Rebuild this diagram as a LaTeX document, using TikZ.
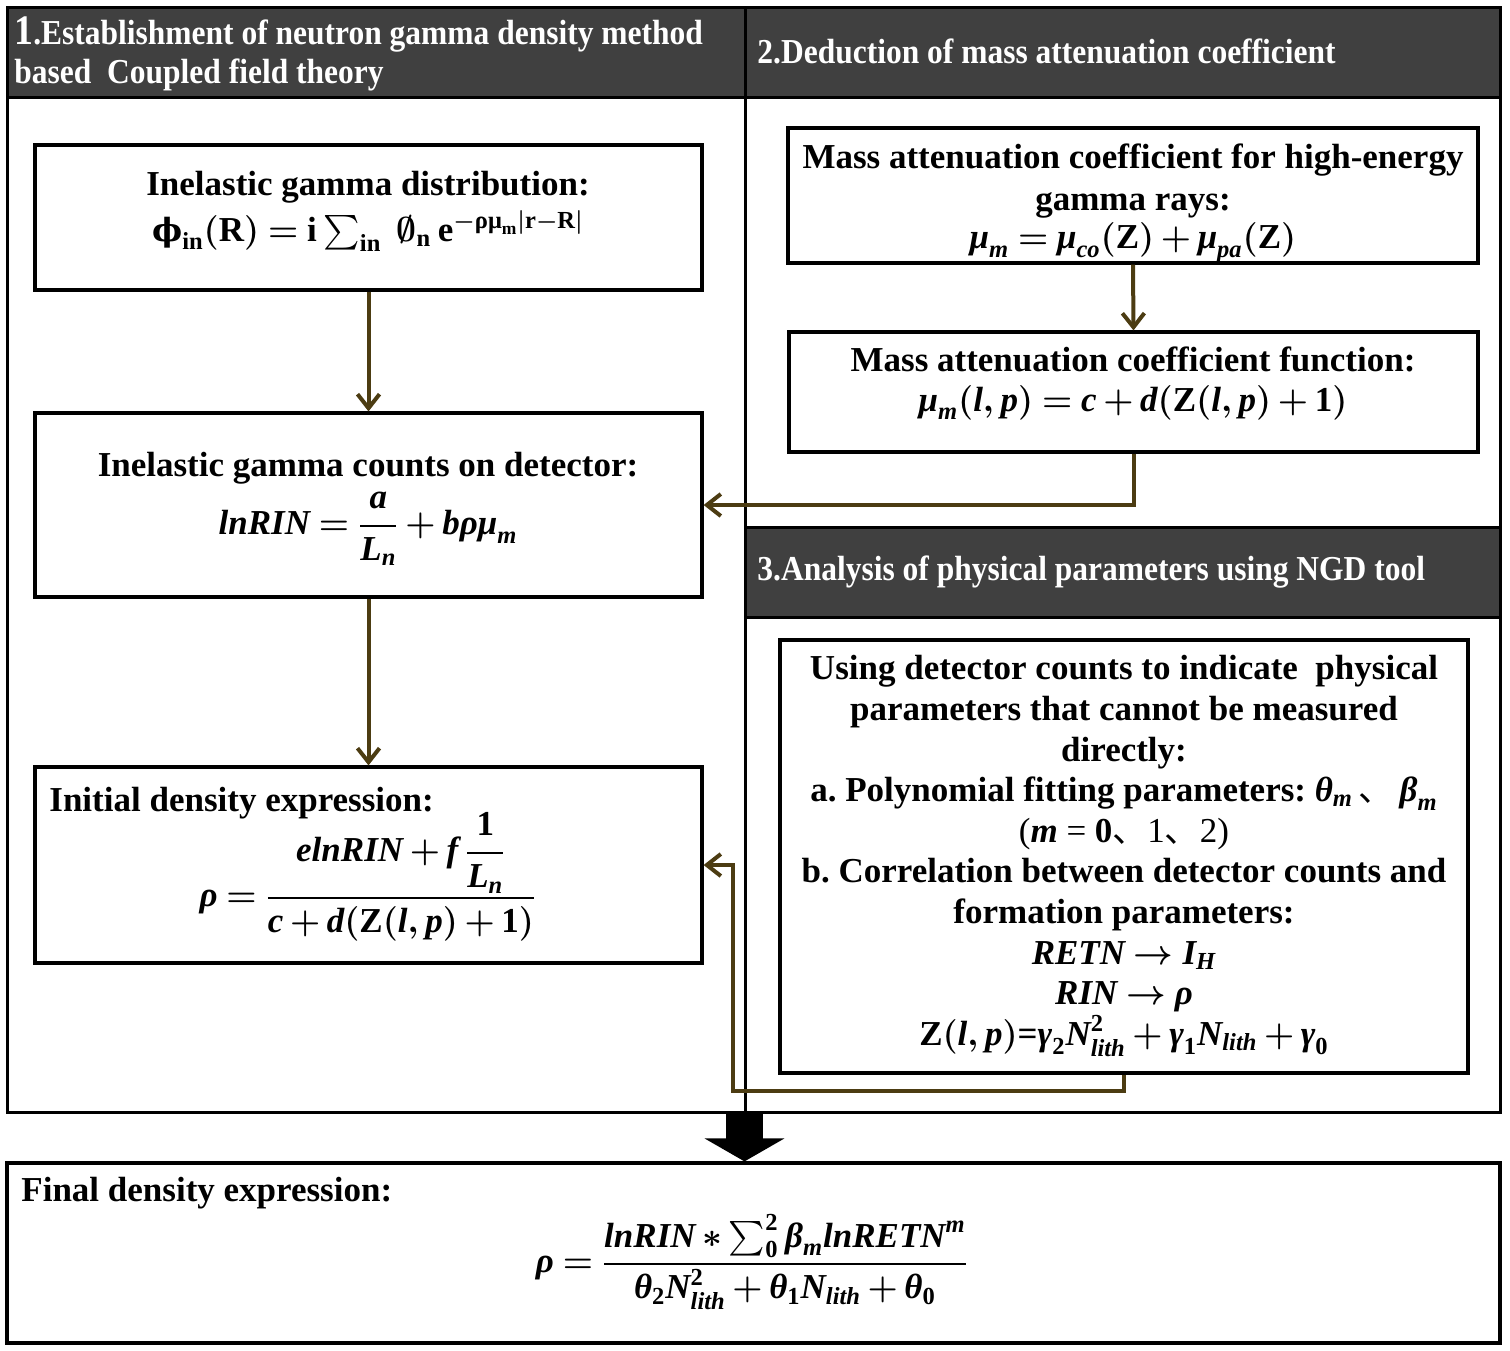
\documentclass[tikz,border=0pt]{standalone}
\usepackage{amsmath}
\usepackage{fontspec}
\setmainfont{Liberation Serif}
\newfontfamily\hdrfont[FakeStretch=0.9]{Liberation Serif}
\newfontfamily\cjkfont{Noto Sans CJK SC}
\newfontfamily\grkfont{DejaVu Serif}
\usetikzlibrary{arrows.meta,fit}
\definecolor{hdrgray}{RGB}{64,64,64}
\definecolor{connbrown}{RGB}{76,60,18}
\newcommand\mt[1]{\text{\bfseries\itshape #1}}
\newcommand\mb[1]{\text{\bfseries #1}}
\newcommand\tightmath{\thickmuskip 4mu\relax\medmuskip 3mu\relax}
\newcommand\bodyfont{\fontsize{17.5}{21}\selectfont\bfseries\boldmath\frenchspacing\tightmath}
\newcommand\bodyfontF{\fontsize{17.5}{20.3}\selectfont\bfseries\boldmath\frenchspacing\tightmath}
\tikzset{
  frameline/.style={line width=1.5pt},
  box/.style={draw, line width=1.6pt, inner sep=0pt},
  conn/.style={draw=connbrown, line width=2pt, -{Straight Barb[length=7pt,width=11pt]}},
  body/.style={font=\bodyfont, align=center, inner sep=0pt},
  hdr/.style={text=white, font=\hdrfont\fontsize{17.5}{19.5}\selectfont\bfseries, align=left, inner sep=0pt, anchor=west},
  bigarrow/.style={line width=18.5pt, -{Triangle[length=11.5pt,width=39.5pt]}},
}
\begin{document}
\begin{tikzpicture}[x=0.5pt,y=-0.5pt]
\useasboundingbox (0,0) rectangle (1510,1350);
% panels
\fill[hdrgray] (7,7) rectangle (1500,97);
\fill[hdrgray] (745,527) rectangle (1500,617);
\draw[frameline] (7,7) rectangle (745,1112);
\draw[frameline] (745,7) rectangle (1500,1112);
\draw[frameline] (7,97) -- (1500,97);
\draw[frameline] (745,527) -- (1500,527);
\draw[frameline] (745,617) -- (1500,617);
% headers
\node[hdr] (h1) at (14,54) {{\fontsize{21}{21}\selectfont 1}.Establishment of neutron gamma density method\\based\ \ Coupled field theory};
\node[hdr] (h2) at (757,51) {2.Deduction of mass attenuation coefficient};
\node[hdr] (h3) at (757,572) {3.Analysis of physical parameters using NGD tool};
% boxes
\node[box, fit={(35,145) (702,290)}] (A) {};
\node[box, fit={(35,413) (702,597)}] (B) {};
\node[box, fit={(35,767) (702,963)}] (C) {};
\node[box, fit={(788,128) (1478,263)}] (D) {};
\node[box, fit={(789,332) (1478,452)}] (E) {};
\node[box, fit={(780,640) (1468,1073)}] (F) {};
\node[box, fit={(7,1163) (1500,1343)}] (G) {};
% texts
\node[body] (tA) at (368,211) {Inelastic gamma distribution:\\[2pt] $\text{\grkfont\bfseries\fontsize{16}{16}\selectfont ϕ}_{\mb{in}}(\mb{R}) = \mb{i}\textstyle\sum_{\mb{in}}\ \emptyset_{\mb{n}}\,\mb{e}^{-\mb{ρμ}_{\mb{m}}|\mb{r}-\mb{R}|}$};
\node[body] (tB) at (368,509) {Inelastic gamma counts on detector:\\[3pt] $\mt{lnRIN} = \dfrac{\mt{a}}{\mt{L}_{\mt{n}}} + \mt{bρμ}_{\mt{m}}$};
\node[body, anchor=west] (tC1) at (49,803) {Initial density expression:};
\node[body] (tC2) at (368,877) {$\mt{ρ} = \dfrac{\mt{elnRIN} + \mt{f}\,\dfrac{\mb{1}}{\mt{L}_{\mt{n}}}}{\mt{c} + \mt{d}(\mb{Z}(\mt{l},\mt{p}) + \mb{1})}$};
\node[body] (tD) at (1133,203) {Mass attenuation coefficient for high-energy\\gamma rays:\\[-2pt] $\mt{μ}_{\mt{m}} = \mt{μ}_{\mt{co}}(\mb{Z}) + \mt{μ}_{\mt{pa}}(\mb{Z})$};
\node[body] (tE) at (1133,383) {Mass attenuation coefficient function:\\[-1pt] $\mt{μ}_{\mt{m}}(\mt{l},\mt{p}) = \mt{c} + \mt{d}(\mb{Z}(\mt{l},\mt{p}) + \mb{1})$};
\node[body, font=\bodyfontF] (tF) at (1124,856) {Using detector counts to indicate\ \ physical\\parameters that cannot be measured\\directly:\\a. Polynomial fitting parameters: $\mt{θ}_{\mt{m}}$\,{\cjkfont\mdseries 、}\,$\mt{β}_{\mt{m}}$\\{\mdseries(}$\mt{m}$ {\mdseries=} 0{\cjkfont\mdseries 、}{\mdseries 1}{\cjkfont\mdseries 、}{\mdseries 2)}\\b. Correlation between detector counts and\\formation parameters:\\$\mt{RETN}\rightarrow\mt{I}_{\mt{H}}$\\$\mt{RIN}\rightarrow\mt{ρ}$\\$\mb{Z}(\mt{l},\mt{p})$=$\mt{γ}_{\mb{2}}\mt{N}_{\mt{lith}}^{\mb{2}} + \mt{γ}_{\mb{1}}\mt{N}_{\mt{lith}} + \mt{γ}_{\mb{0}}$};
\node[body, anchor=west] (tG1) at (21,1193) {Final density expression:};
\node[body] (tG2) at (752,1262) {$\mt{ρ} = \dfrac{\mt{lnRIN} * \textstyle\sum_{\mb{0}}^{\mb{2}}\mt{β}_{\mt{m}}\mt{lnRETN}^{\mt{m}}}{\mt{θ}_{\mb{2}}\mt{N}_{\mt{lith}}^{\mb{2}} + \mt{θ}_{\mb{1}}\mt{N}_{\mt{lith}} + \mt{θ}_{\mb{0}}}$};
% connectors
\coordinate (fl2) at (733,1091);
\coordinate (bigtop) at (744.5,1112);
\draw[conn] (A.south) -- (B.north);
\draw[conn] (B.south) -- (C.north);
\draw[conn] (D.south) -- (E.north);
\draw[conn] (E.south) |- (B.east);
\draw[conn] (F.south) |- (fl2) |- (C.east);
\draw[bigarrow] (bigtop) -- (bigtop |- G.north);
\end{tikzpicture}
\end{document}
